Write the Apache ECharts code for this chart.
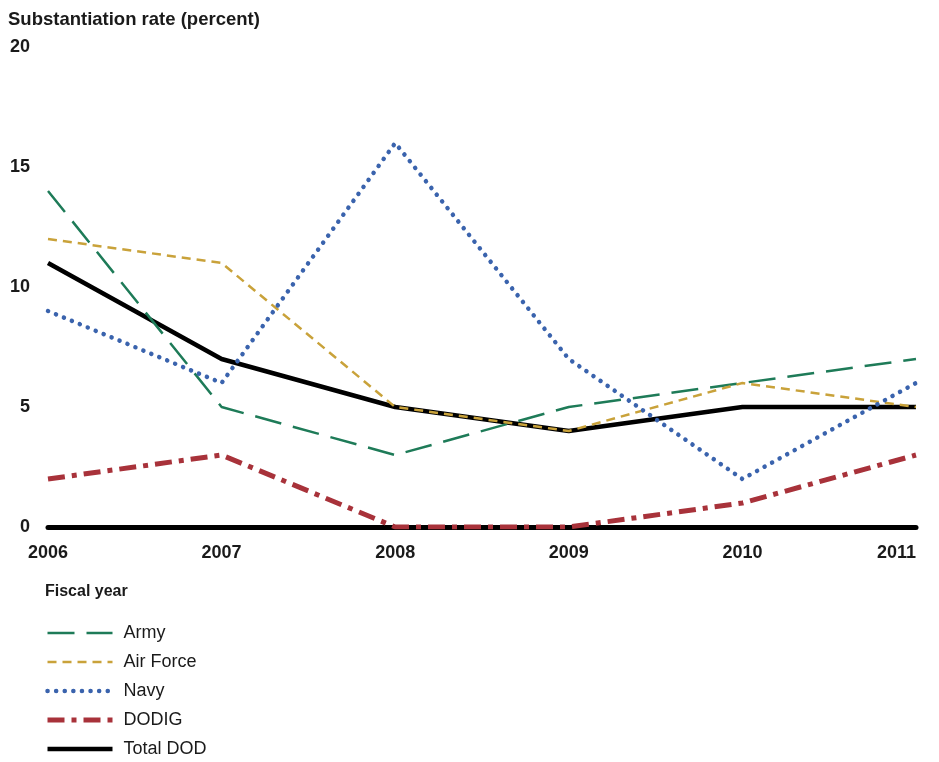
<!DOCTYPE html>
<html>
<head>
<meta charset="utf-8">
<script src="https://cdn.jsdelivr.net/npm/echarts@6/dist/echarts.min.js"></script>
<style>html,body{margin:0;padding:0;background:#fff}#c{width:939px;height:762px}</style>
</head>
<body>
<div id="c"></div>
<script>
var years = ['2006', '2007', '2008', '2009', '2010', '2011'];
var army = [14, 5, 3, 5, 6, 7];
var airForce = [12, 11, 5, 4, 6, 5];
var navy = [9, 6, 16, 7, 2, 6];
var dodig = [2, 3, 0, 0, 1, 3];
var totalDod = [11, 7, 5, 4, 5, 5];
var yTicks = [0, 5, 10, 15, 20];

var font = '"Liberation Sans", Arial, sans-serif';
var styles = {
  'Army':      { color: '#1e7b58', width: 2.5, type: [27, 12], cap: 'butt' },
  'Air Force': { color: '#c9a23a', width: 2.5, type: [9, 6], cap: 'butt' },
  'Navy':      { color: '#3a63ad', width: 4.5, type: [0.1, 8.5], cap: 'round' },
  'DODIG':     { color: '#a8323a', width: 5, type: [17, 7, 5, 7], cap: 'butt' },
  'Total DOD': { color: '#000000', width: 4.5, type: 'solid', cap: 'butt' }
};
var chart = echarts.init(document.getElementById('c'));
function mk(name, data, z) {
  var s = styles[name];
  return {
    name: name, type: 'line', data: data, symbol: 'none', z: z,
    lineStyle: { color: s.color, width: s.width, type: s.type, cap: s.cap },
    itemStyle: { color: s.color },
    emphasis: { disabled: true }, animation: false
  };
}
var legendNames = ['Army', 'Air Force', 'Navy', 'DODIG', 'Total DOD'];
chart.setOption({
  animation: false,
  title: [
    { text: 'Substantiation rate (percent)', left: 3, top: 5,
      textStyle: { fontFamily: font, fontSize: 18.5, fontWeight: 'bold', color: '#1a1a1a' } },
    { text: 'Fiscal year', left: 40, top: 579,
      textStyle: { fontFamily: font, fontSize: 16, fontWeight: 'bold', color: '#1a1a1a' } }
  ],
  grid: { left: 48, right: 23, top: 47, bottom: 235, containLabel: false },
  xAxis: {
    type: 'category', data: years, boundaryGap: false,
    axisLine: { show: true, lineStyle: { color: '#000', width: 5 } },
    axisTick: { show: false },
    axisLabel: { fontFamily: font, fontSize: 18, fontWeight: 'bold', color: '#1a1a1a', margin: 17, alignMaxLabel: 'right' },
    splitLine: { show: false }
  },
  yAxis: {
    type: 'value', min: 0, max: 20, interval: 5,
    axisLine: { show: false }, axisTick: { show: false }, splitLine: { show: false },
    axisLabel: { fontFamily: font, fontSize: 18, fontWeight: 'bold', color: '#1a1a1a', margin: 18,
      formatter: function (v) { return yTicks.indexOf(v) >= 0 ? String(v) : ''; } }
  },
  legend: {
    orient: 'vertical', left: 45, top: 624, padding: 0, itemWidth: 65, itemHeight: 14, itemGap: 11,
    height: 150,
    data: legendNames.map(function (n) {
      var s = styles[n];
      return { name: n, itemStyle: { opacity: 0 },
        lineStyle: { color: s.color, width: s.width, type: s.type, cap: s.cap } };
    }),
    textStyle: { fontFamily: font, fontSize: 18, color: '#1a1a1a', padding: [0, 0, 0, 6] },
    selectedMode: false
  },
  series: [
    mk('Total DOD', totalDod, 2),
    mk('Army', army, 3),
    mk('Air Force', airForce, 3),
    mk('Navy', navy, 3),
    mk('DODIG', dodig, 3)
  ]
});
</script>
</body>
</html>
